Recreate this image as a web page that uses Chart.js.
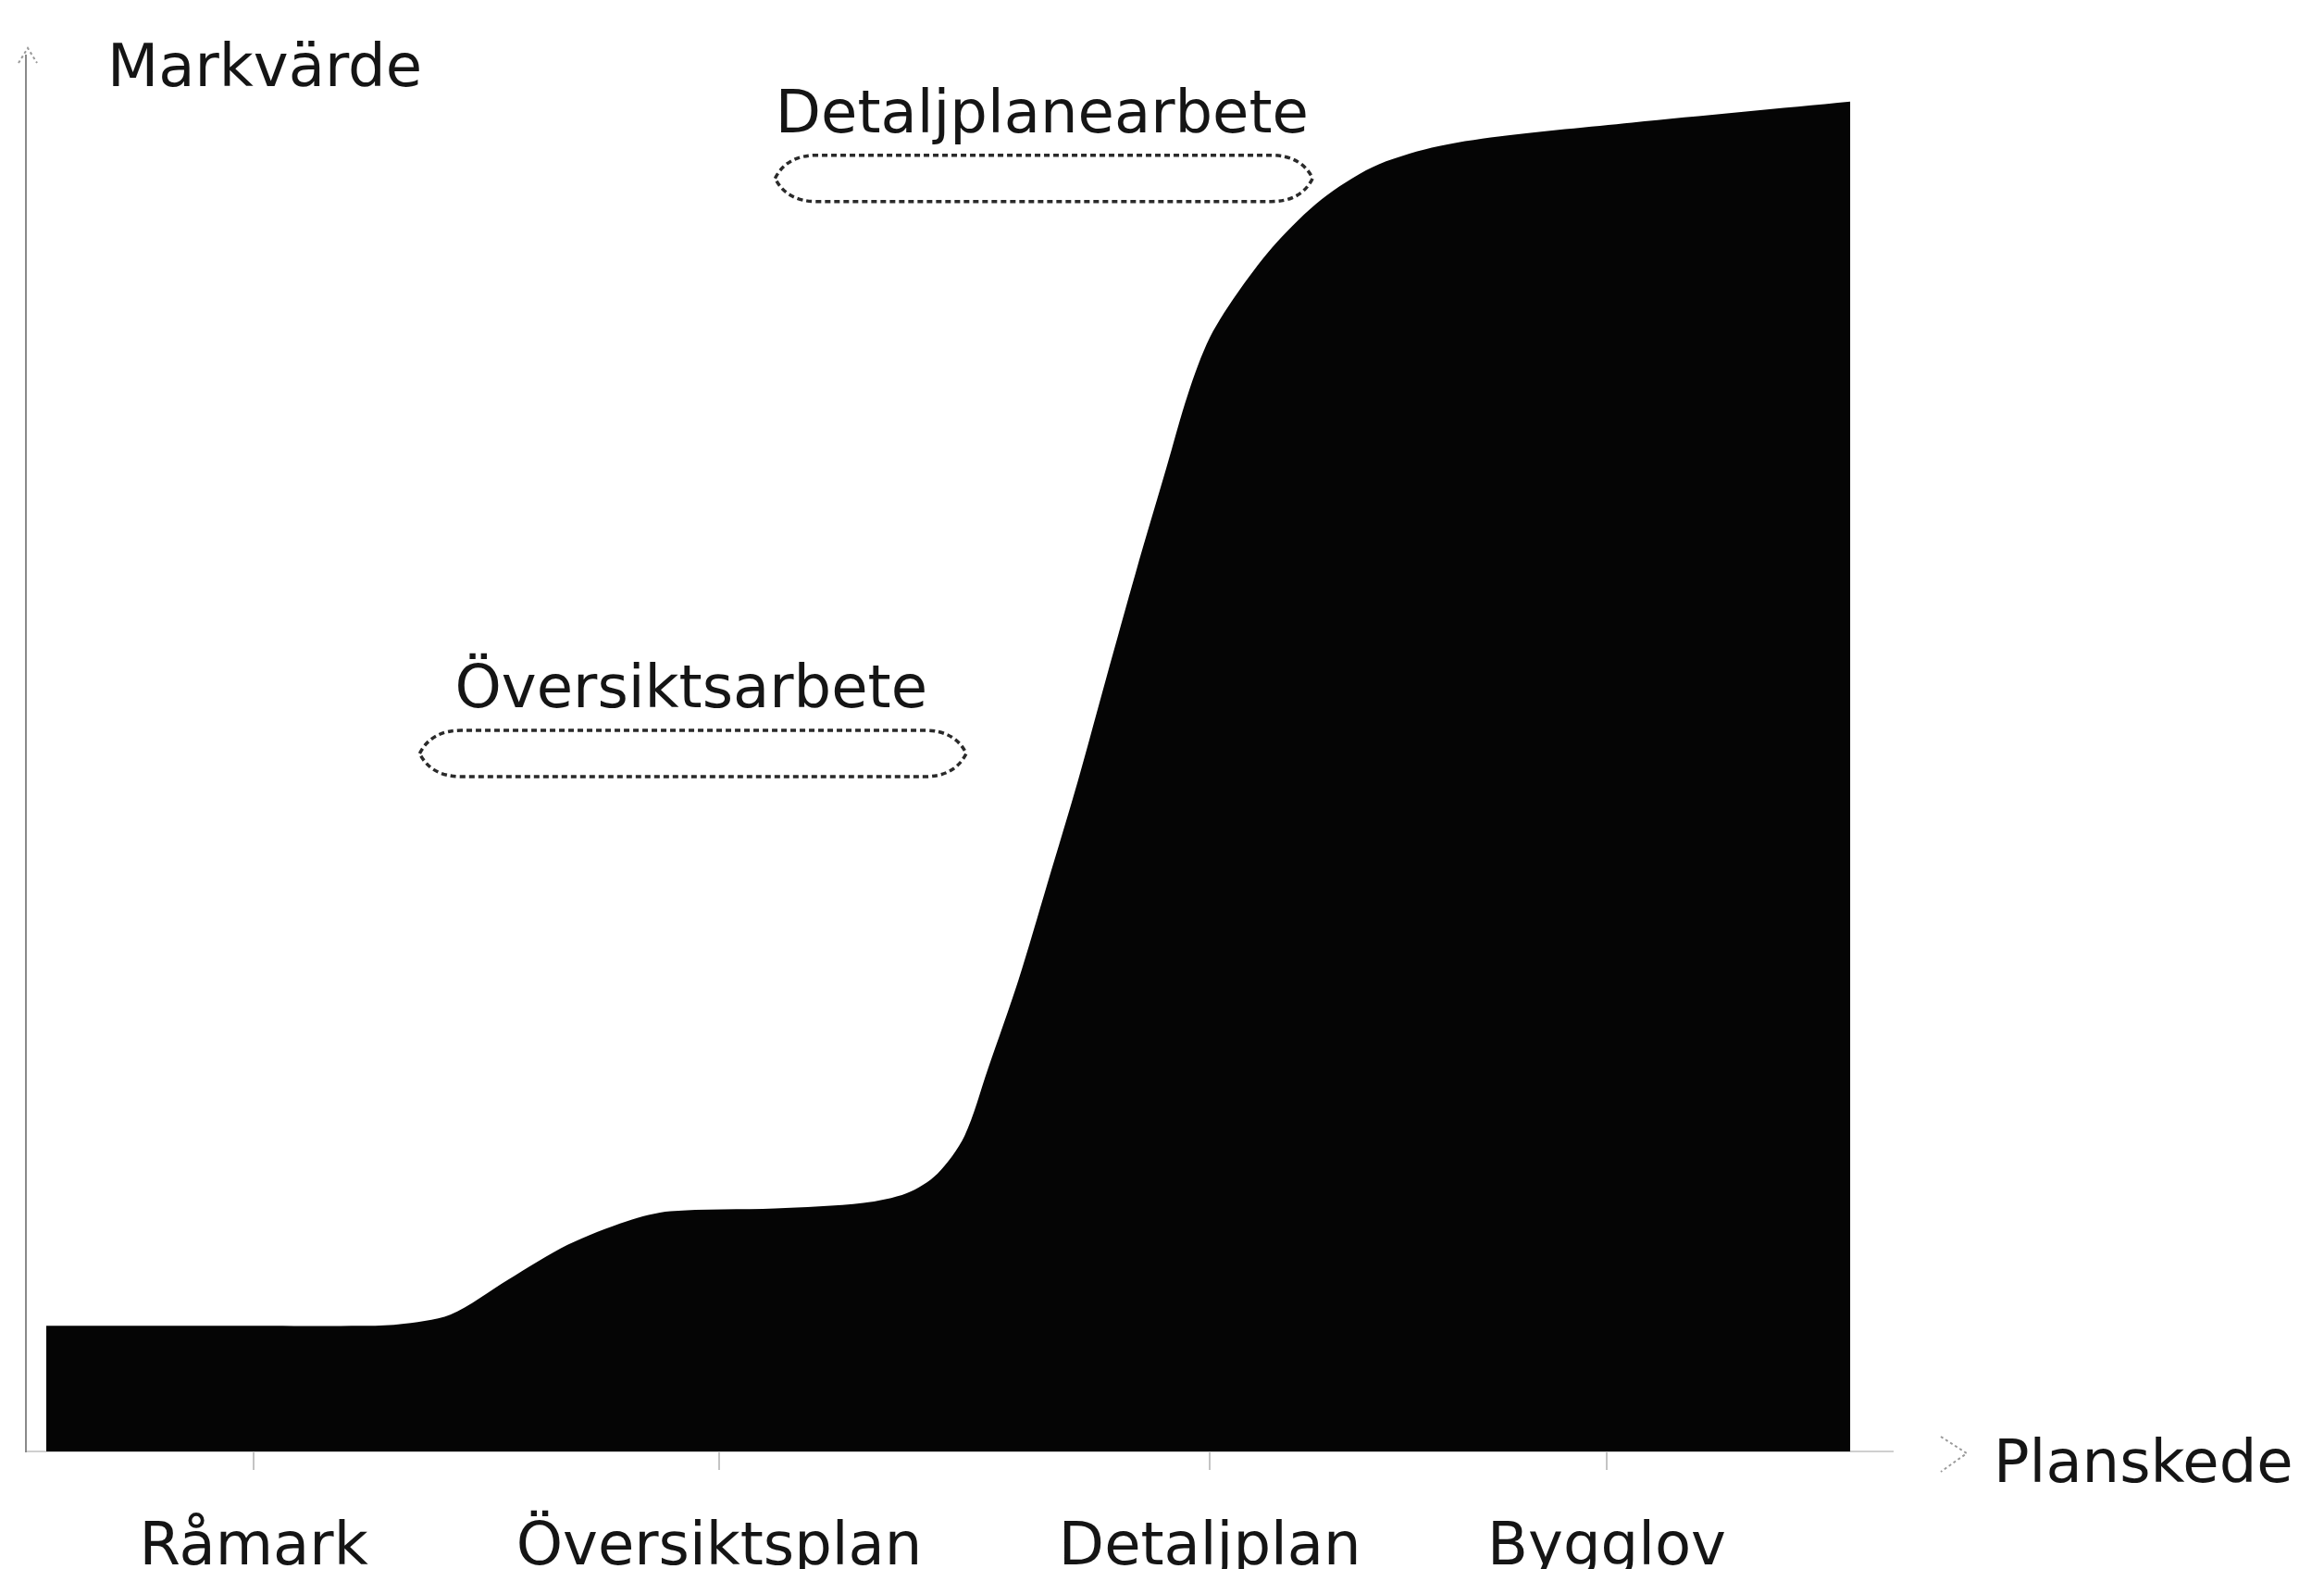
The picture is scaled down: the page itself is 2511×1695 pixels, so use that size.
<!DOCTYPE html>
<html><head><meta charset="utf-8">
<script src="https://cdn.jsdelivr.net/npm/chart.js@4/dist/chart.umd.min.js"></script>
<style>html,body{margin:0;padding:0;background:#fff;overflow:hidden}</style>
</head><body>
<canvas id="c" width="2511" height="1695"></canvas>
<script>
// Curve of land value (Markvärde) along planning stage (Planskede)
const curveX = [0, 10, 17.5, 19.5, 22.4, 25.6, 28.9, 32.2, 34.6, 40.4, 45.3, 47.7, 49.4, 50.9, 52.2, 53.9, 55.5, 57.2, 58.8, 60.4, 62.1, 63.3, 64.5, 66.2, 68.2, 70.7, 73.5, 76.8, 80.5, 87.9, 100];
const curveY = [9.0, 9.0, 9.0, 9.1, 9.8, 12.3, 14.8, 16.5, 17.2, 17.4, 17.8, 18.5, 19.9, 22.6, 27.4, 33.8, 40.7, 48.1, 55.6, 63.0, 70.5, 75.8, 79.8, 83.3, 86.6, 89.7, 92.0, 93.4, 94.2, 95.2, 96.7];
const tickPositions = [11.5, 37.3, 64.5, 86.5];
const tickLabels = ['Råmark', 'Översiktsplan', 'Detaljplan', 'Bygglov'];
const yAxisTitle = 'Markvärde';
const xAxisTitle = 'Planskede';
const phaseLabels = ['Översiktsarbete', 'Detaljplanearbete'];
const phaseStart = [20.7, 40.4];
const phaseEnd = [51.0, 70.2];
const phaseLevel = [50.0, 91.2];

const FONT = '"DejaVu Sans", "Open Sans", sans-serif';
const TEXT = '#151515';

const points = curveX.map((x, i) => ({x: x, y: curveY[i]}));

function bracket(ctx, x0, x1, yc, h) {
  const t = yc - h / 2, b = yc + h / 2;
  ctx.beginPath();
  ctx.moveTo(x0, yc);
  ctx.quadraticCurveTo(x0 + h * 0.25, t, x0 + h * 0.9, t);
  ctx.lineTo(x1 - h * 0.9, t);
  ctx.quadraticCurveTo(x1 - h * 0.25, t, x1, yc);
  ctx.quadraticCurveTo(x1 - h * 0.25, b, x1 - h * 0.9, b);
  ctx.lineTo(x0 + h * 0.9, b);
  ctx.quadraticCurveTo(x0 + h * 0.25, b, x0, yc);
  ctx.closePath();
  ctx.stroke();
}

const annot = {
  id: 'annot',
  afterDraw(chart) {
    const ctx = chart.ctx;
    const xs = chart.scales.x, ys = chart.scales.y;
    const ca = chart.chartArea;
    ctx.save();
    ctx.fillStyle = TEXT;
    ctx.font = '64px ' + FONT;
    ctx.textBaseline = 'alphabetic';
    // axis titles
    ctx.textAlign = 'left';
    ctx.fillText(yAxisTitle, ca.left + 88, ca.top + 33);
    ctx.fillText(xAxisTitle, ca.right + 109, ca.bottom + 33);
    // faint arrow heads
    ctx.strokeStyle = '#9a9a9a';
    ctx.lineWidth = 2;
    ctx.setLineDash([3, 3]);
    ctx.beginPath();
    ctx.moveTo(ca.right + 52, ca.bottom - 16);
    ctx.lineTo(ca.right + 80, ca.bottom + 2);
    ctx.lineTo(ca.right + 52, ca.bottom + 22);
    ctx.stroke();
    ctx.beginPath();
    ctx.moveTo(ca.left - 8, ca.top + 8);
    ctx.lineTo(ca.left + 2, ca.top - 8);
    ctx.lineTo(ca.left + 12, ca.top + 8);
    ctx.stroke();
    // phase brackets
    ctx.textAlign = 'center';
    for (let i = 0; i < phaseLabels.length; i++) {
      const x0 = xs.getPixelForValue(phaseStart[i]);
      const x1 = xs.getPixelForValue(phaseEnd[i]);
      const yc = ys.getPixelForValue(phaseLevel[i]);
      ctx.setLineDash([6, 4]);
      ctx.strokeStyle = '#2a2a2a';
      ctx.lineWidth = 3.5;
      bracket(ctx, x0, x1, yc, 50);
      ctx.setLineDash([]);
      ctx.fillStyle = TEXT;
      ctx.fillText(phaseLabels[i], (x0 + x1) / 2 - 2, yc - 50);
    }
    ctx.restore();
  }
};

new Chart(document.getElementById('c'), {
  type: 'line',
  data: {
    datasets: [{
      data: points,
      fill: 'origin',
      backgroundColor: '#050505',
      borderWidth: 0,
      borderColor: 'rgba(0,0,0,0)',
      pointRadius: 0,
      tension: 0.3
    }]
  },
  options: {
    responsive: false,
    animation: false,
    devicePixelRatio: 1,
    layout: {padding: {top: 60, left: 20, right: 466, bottom: -63}},
    plugins: {legend: {display: false}, tooltip: {enabled: false}},
    scales: {
      x: {
        type: 'linear',
        min: -1.125,
        max: 102.35,
        afterBuildTicks: (s) => { s.ticks = tickPositions.map(v => ({value: v})); },
        ticks: {
          callback: (v, i) => tickLabels[i],
          font: {family: FONT, size: 64, lineHeight: 1.0},
          color: TEXT,
          maxRotation: 0,
          autoSkip: false,
          padding: 53
        },
        grid: {display: true, drawOnChartArea: false, drawTicks: true, tickLength: 20, color: '#c4c4c4', lineWidth: 2},
        border: {display: true, color: '#cfcfcf', width: 2}
      },
      y: {
        min: 0,
        max: 100,
        ticks: {display: false},
        grid: {display: false},
        border: {display: true, color: '#8a8a8a', width: 2, dash: [3, 7]}
      }
    }
  },
  plugins: [annot]
});
</script>
</body></html>
